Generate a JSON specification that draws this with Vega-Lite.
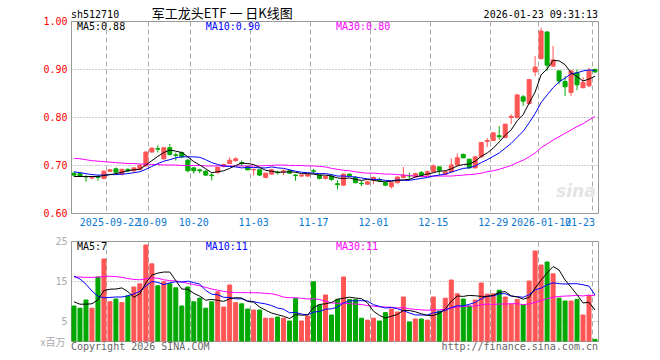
{
"$schema": "https://vega.github.io/schema/vega-lite/v6.json",
"background": "#ffffff",
"padding": {"left": 39, "top": 7, "right": 2, "bottom": 2},
"spacing": 28,
"bounds": "flush",
"config": {
  "font": "DejaVu Sans Mono",
  "view": {"stroke": "#999999", "strokeWidth": 1},
  "axis": {"labelFont": "DejaVu Sans Mono", "labelFontSize": 10, "ticks": false, "domain": false, "labelPadding": 4}
},
"datasets": {"k": [
{"d":"2025-09-12","o":0.683,"h":0.685,"l":0.676,"c":0.679,"v":8.75,"m5":0.676,"m10":0.686,"m30":0.714,"vm5":9.8,"vm10":16.2,"vm30":16.0},
{"d":"2025-09-15","o":0.682,"h":0.683,"l":0.676,"c":0.677,"v":8.2,"m5":0.676,"m10":0.684,"m30":0.713,"vm5":9.2,"vm10":15.5,"vm30":16.0},
{"d":"2025-09-16","o":0.676,"h":0.679,"l":0.665,"c":0.675,"v":10.25,"m5":0.676,"m10":0.682,"m30":0.711,"vm5":9.2,"vm10":14.2,"vm30":15.9},
{"d":"2025-09-17","o":0.673,"h":0.676,"l":0.670,"c":0.675,"v":8.2,"m5":0.676,"m10":0.680,"m30":0.709,"vm5":9.3,"vm10":12.5,"vm30":15.9},
{"d":"2025-09-18","o":0.675,"h":0.679,"l":0.667,"c":0.674,"v":16,"m5":0.676,"m10":0.679,"m30":0.708,"vm5":10.28,"vm10":11.2,"vm30":16.0},
{"d":"2025-09-19","o":0.672,"h":0.689,"l":0.670,"c":0.687,"v":20.5,"m5":0.678,"m10":0.679,"m30":0.707,"vm5":12.63,"vm10":10.8,"vm30":16.1},
{"d":"2025-09-22","o":0.687,"h":0.692,"l":0.685,"c":0.690,"v":9.8,"m5":0.680,"m10":0.680,"m30":0.706,"vm5":12.95,"vm10":10.9,"vm30":16.2},
{"d":"2025-09-23","o":0.692,"h":0.695,"l":0.683,"c":0.685,"v":10.5,"m5":0.682,"m10":0.680,"m30":0.705,"vm5":13.0,"vm10":11.0,"vm30":16.1},
{"d":"2025-09-24","o":0.681,"h":0.692,"l":0.678,"c":0.691,"v":9.6,"m5":0.685,"m10":0.681,"m30":0.704,"vm5":13.28,"vm10":11.0,"vm30":15.9},
{"d":"2025-09-25","o":0.691,"h":0.693,"l":0.685,"c":0.688,"v":11.25,"m5":0.688,"m10":0.682,"m30":0.703,"vm5":12.33,"vm10":11.31,"vm30":15.6},
{"d":"2025-09-26","o":0.688,"h":0.696,"l":0.686,"c":0.694,"v":13.5,"m5":0.690,"m10":0.684,"m30":0.703,"vm5":10.93,"vm10":11.78,"vm30":15.4},
{"d":"2025-09-29","o":0.691,"h":0.702,"l":0.689,"c":0.699,"v":14.3,"m5":0.691,"m10":0.686,"m30":0.702,"vm5":11.83,"vm10":12.39,"vm30":15.3},
{"d":"2025-09-30","o":0.698,"h":0.728,"l":0.697,"c":0.727,"v":24,"m5":0.700,"m10":0.691,"m30":0.702,"vm5":14.53,"vm10":13.77,"vm30":15.6},
{"d":"2025-10-09","o":0.727,"h":0.737,"l":0.726,"c":0.735,"v":19.3,"m5":0.709,"m10":0.697,"m30":0.701,"vm5":16.47,"vm10":14.88,"vm30":15.8},
{"d":"2025-10-10","o":0.734,"h":0.741,"l":0.726,"c":0.733,"v":13.8,"m5":0.718,"m10":0.703,"m30":0.701,"vm5":16.98,"vm10":14.66,"vm30":15.7},
{"d":"2025-10-13","o":0.713,"h":0.737,"l":0.711,"c":0.736,"v":14.8,"m5":0.726,"m10":0.708,"m30":0.700,"vm5":17.24,"vm10":14.09,"vm30":15.3},
{"d":"2025-10-14","o":0.736,"h":0.744,"l":0.720,"c":0.722,"v":14.3,"m5":0.731,"m10":0.711,"m30":0.700,"vm5":17.24,"vm10":14.54,"vm30":15.1},
{"d":"2025-10-15","o":0.721,"h":0.726,"l":0.709,"c":0.720,"v":13.3,"m5":0.729,"m10":0.715,"m30":0.700,"vm5":15.1,"vm10":14.82,"vm30":15.0},
{"d":"2025-10-16","o":0.726,"h":0.728,"l":0.714,"c":0.717,"v":8.75,"m5":0.726,"m10":0.717,"m30":0.699,"vm5":12.99,"vm10":14.73,"vm30":14.8},
{"d":"2025-10-17","o":0.710,"h":0.712,"l":0.685,"c":0.688,"v":13.5,"m5":0.717,"m10":0.717,"m30":0.699,"vm5":12.93,"vm10":14.96,"vm30":14.4},
{"d":"2025-10-20","o":0.694,"h":0.696,"l":0.682,"c":0.688,"v":9.8,"m5":0.707,"m10":0.717,"m30":0.699,"vm5":11.93,"vm10":14.59,"vm30":14.1},
{"d":"2025-10-21","o":0.690,"h":0.692,"l":0.683,"c":0.688,"v":10.7,"m5":0.700,"m10":0.716,"m30":0.699,"vm5":11.21,"vm10":14.23,"vm30":13.8},
{"d":"2025-10-22","o":0.687,"h":0.689,"l":0.677,"c":0.679,"v":8.2,"m5":0.692,"m10":0.711,"m30":0.698,"vm5":10.19,"vm10":12.65,"vm30":13.4},
{"d":"2025-10-23","o":0.679,"h":0.683,"l":0.668,"c":0.678,"v":9.8,"m5":0.684,"m10":0.705,"m30":0.698,"vm5":10.4,"vm10":11.7,"vm30":13.0},
{"d":"2025-10-24","o":0.684,"h":0.697,"l":0.682,"c":0.695,"v":12.3,"m5":0.686,"m10":0.701,"m30":0.698,"vm5":10.16,"vm10":11.55,"vm30":12.7},
{"d":"2025-10-27","o":0.697,"h":0.703,"l":0.695,"c":0.701,"v":8.5,"m5":0.688,"m10":0.698,"m30":0.698,"vm5":9.9,"vm10":10.92,"vm30":12.4},
{"d":"2025-10-28","o":0.703,"h":0.716,"l":0.702,"c":0.710,"v":14,"m5":0.693,"m10":0.697,"m30":0.698,"vm5":10.56,"vm10":10.89,"vm30":12.2},
{"d":"2025-10-29","o":0.709,"h":0.716,"l":0.707,"c":0.713,"v":9.6,"m5":0.699,"m10":0.696,"m30":0.698,"vm5":10.84,"vm10":10.52,"vm30":12.1},
{"d":"2025-10-30","o":0.705,"h":0.709,"l":0.697,"c":0.703,"v":9.3,"m5":0.704,"m10":0.694,"m30":0.698,"vm5":10.74,"vm10":10.57,"vm30":12.1},
{"d":"2025-10-31","o":0.697,"h":0.699,"l":0.689,"c":0.690,"v":8,"m5":0.703,"m10":0.695,"m30":0.698,"vm5":9.88,"vm10":10.02,"vm30":12.09},
{"d":"2025-11-03","o":0.690,"h":0.692,"l":0.678,"c":0.691,"v":7.75,"m5":0.701,"m10":0.695,"m30":0.698,"vm5":9.73,"vm10":9.82,"vm30":12.06},
{"d":"2025-11-04","o":0.690,"h":0.691,"l":0.677,"c":0.679,"v":7.75,"m5":0.695,"m10":0.694,"m30":0.698,"vm5":8.48,"vm10":9.52,"vm30":12.05},
{"d":"2025-11-05","o":0.674,"h":0.684,"l":0.672,"c":0.683,"v":5.7,"m5":0.689,"m10":0.694,"m30":0.699,"vm5":7.7,"vm10":9.27,"vm30":11.89},
{"d":"2025-11-06","o":0.681,"h":0.692,"l":0.680,"c":0.690,"v":5.7,"m5":0.687,"m10":0.696,"m30":0.699,"vm5":6.98,"vm10":8.86,"vm30":11.81},
{"d":"2025-11-07","o":0.685,"h":0.688,"l":0.680,"c":0.684,"v":6,"m5":0.685,"m10":0.694,"m30":0.700,"vm5":6.58,"vm10":8.23,"vm30":11.48},
{"d":"2025-11-10","o":0.686,"h":0.691,"l":0.679,"c":0.688,"v":5.7,"m5":0.685,"m10":0.693,"m30":0.700,"vm5":6.17,"vm10":7.95,"vm30":10.98},
{"d":"2025-11-11","o":0.688,"h":0.691,"l":0.682,"c":0.683,"v":5,"m5":0.686,"m10":0.690,"m30":0.699,"vm5":5.62,"vm10":7.05,"vm30":10.82},
{"d":"2025-11-12","o":0.679,"h":0.681,"l":0.667,"c":0.678,"v":10.6,"m5":0.685,"m10":0.687,"m30":0.699,"vm5":6.6,"vm10":7.15,"vm30":10.83},
{"d":"2025-11-13","o":0.677,"h":0.680,"l":0.675,"c":0.679,"v":5,"m5":0.682,"m10":0.685,"m30":0.699,"vm5":6.46,"vm10":6.72,"vm30":10.67},
{"d":"2025-11-14","o":0.677,"h":0.681,"l":0.675,"c":0.680,"v":6.25,"m5":0.682,"m10":0.684,"m30":0.698,"vm5":6.51,"vm10":6.55,"vm30":10.51},
{"d":"2025-11-17","o":0.688,"h":0.692,"l":0.682,"c":0.687,"v":14.8,"m5":0.681,"m10":0.683,"m30":0.698,"vm5":8.33,"vm10":7.25,"vm30":10.55},
{"d":"2025-11-18","o":0.679,"h":0.680,"l":0.670,"c":0.672,"v":9,"m5":0.679,"m10":0.682,"m30":0.697,"vm5":9.13,"vm10":7.38,"vm30":10.37},
{"d":"2025-11-19","o":0.672,"h":0.677,"l":0.670,"c":0.676,"v":11.5,"m5":0.679,"m10":0.682,"m30":0.696,"vm5":9.31,"vm10":7.96,"vm30":9.96},
{"d":"2025-11-20","o":0.677,"h":0.680,"l":0.667,"c":0.670,"v":6.5,"m5":0.677,"m10":0.680,"m30":0.693,"vm5":9.61,"vm10":8.04,"vm30":9.53},
{"d":"2025-11-21","o":0.661,"h":0.668,"l":0.649,"c":0.659,"v":10.4,"m5":0.673,"m10":0.677,"m30":0.691,"vm5":10.44,"vm10":8.48,"vm30":9.42},
{"d":"2025-11-24","o":0.658,"h":0.682,"l":0.657,"c":0.681,"v":16,"m5":0.672,"m10":0.677,"m30":0.689,"vm5":10.68,"vm10":9.51,"vm30":9.46},
{"d":"2025-11-25","o":0.681,"h":0.682,"l":0.677,"c":0.678,"v":10.4,"m5":0.673,"m10":0.676,"m30":0.688,"vm5":10.96,"vm10":10.05,"vm30":9.33},
{"d":"2025-11-26","o":0.674,"h":0.677,"l":0.662,"c":0.663,"v":10.4,"m5":0.670,"m10":0.675,"m30":0.686,"vm5":10.74,"vm10":10.03,"vm30":9.23},
{"d":"2025-11-27","o":0.662,"h":0.668,"l":0.656,"c":0.661,"v":5.7,"m5":0.668,"m10":0.673,"m30":0.684,"vm5":10.58,"vm10":10.1,"vm30":9.13},
{"d":"2025-11-28","o":0.660,"h":0.667,"l":0.659,"c":0.665,"v":5.2,"m5":0.670,"m10":0.671,"m30":0.683,"vm5":9.54,"vm10":9.99,"vm30":8.85},
{"d":"2025-12-01","o":0.670,"h":0.676,"l":0.660,"c":0.674,"v":5.7,"m5":0.668,"m10":0.670,"m30":0.683,"vm5":7.48,"vm10":9.08,"vm30":8.72},
{"d":"2025-12-02","o":0.669,"h":0.674,"l":0.665,"c":0.668,"v":5,"m5":0.666,"m10":0.670,"m30":0.682,"vm5":6.4,"vm10":8.68,"vm30":8.53},
{"d":"2025-12-03","o":0.663,"h":0.665,"l":0.656,"c":0.658,"v":7.1,"m5":0.665,"m10":0.668,"m30":0.681,"vm5":5.74,"vm10":8.24,"vm30":8.49},
{"d":"2025-12-04","o":0.655,"h":0.664,"l":0.651,"c":0.663,"v":8,"m5":0.666,"m10":0.667,"m30":0.681,"vm5":6.2,"vm10":8.39,"vm30":8.43},
{"d":"2025-12-05","o":0.663,"h":0.676,"l":0.662,"c":0.675,"v":7.25,"m5":0.668,"m10":0.669,"m30":0.680,"vm5":6.61,"vm10":8.08,"vm30":8.26},
{"d":"2025-12-08","o":0.674,"h":0.696,"l":0.672,"c":0.679,"v":11,"m5":0.669,"m10":0.668,"m30":0.679,"vm5":7.67,"vm10":7.58,"vm30":8.34},
{"d":"2025-12-09","o":0.678,"h":0.684,"l":0.670,"c":0.677,"v":4.75,"m5":0.670,"m10":0.668,"m30":0.678,"vm5":7.62,"vm10":7.01,"vm30":8.04},
{"d":"2025-12-10","o":0.675,"h":0.684,"l":0.674,"c":0.682,"v":5.5,"m5":0.675,"m10":0.670,"m30":0.677,"vm5":7.3,"vm10":6.52,"vm30":7.9},
{"d":"2025-12-11","o":0.684,"h":0.6875,"l":0.674,"c":0.679,"v":5.5,"m5":0.678,"m10":0.672,"m30":0.676,"vm5":6.8,"vm10":6.5,"vm30":7.77},
{"d":"2025-12-12","o":0.679,"h":0.689,"l":0.678,"c":0.686,"v":5.2,"m5":0.681,"m10":0.674,"m30":0.676,"vm5":6.39,"vm10":6.5,"vm30":7.68},
{"d":"2025-12-15","o":0.686,"h":0.701,"l":0.685,"c":0.698,"v":11,"m5":0.684,"m10":0.677,"m30":0.677,"vm5":6.39,"vm10":7.03,"vm30":7.79},
{"d":"2025-12-16","o":0.696,"h":0.697,"l":0.679,"c":0.689,"v":7.5,"m5":0.687,"m10":0.679,"m30":0.677,"vm5":6.94,"vm10":7.28,"vm30":7.78},
{"d":"2025-12-17","o":0.6805,"h":0.688,"l":0.679,"c":0.686,"v":10.7,"m5":0.688,"m10":0.681,"m30":0.677,"vm5":7.98,"vm10":7.64,"vm30":7.95},
{"d":"2025-12-18","o":0.686,"h":0.714,"l":0.684,"c":0.700,"v":15.25,"m5":0.692,"m10":0.685,"m30":0.677,"vm5":9.93,"vm10":8.37,"vm30":8.26},
{"d":"2025-12-19","o":0.700,"h":0.724,"l":0.699,"c":0.715,"v":11.8,"m5":0.698,"m10":0.689,"m30":0.678,"vm5":11.25,"vm10":8.82,"vm30":8.46},
{"d":"2025-12-22","o":0.722,"h":0.724,"l":0.714,"c":0.715,"v":10.5,"m5":0.701,"m10":0.693,"m30":0.679,"vm5":11.15,"vm10":8.77,"vm30":8.62},
{"d":"2025-12-23","o":0.712,"h":0.713,"l":0.693,"c":0.694,"v":8.75,"m5":0.702,"m10":0.694,"m30":0.680,"vm5":11.4,"vm10":9.17,"vm30":8.74},
{"d":"2025-12-24","o":0.694,"h":0.719,"l":0.693,"c":0.717,"v":10.25,"m5":0.708,"m10":0.698,"m30":0.681,"vm5":11.31,"vm10":9.65,"vm30":8.73},
{"d":"2025-12-25","o":0.717,"h":0.748,"l":0.715,"c":0.747,"v":14.5,"m5":0.718,"m10":0.705,"m30":0.683,"vm5":11.16,"vm10":10.55,"vm30":9.05},
{"d":"2025-12-26","o":0.749,"h":0.756,"l":0.7375,"c":0.751,"v":11.7,"m5":0.725,"m10":0.711,"m30":0.686,"vm5":11.14,"vm10":11.2,"vm30":9.23},
{"d":"2025-12-29","o":0.751,"h":0.768,"l":0.750,"c":0.767,"v":11.8,"m5":0.735,"m10":0.718,"m30":0.688,"vm5":11.4,"vm10":11.28,"vm30":9.13},
{"d":"2025-12-30","o":0.761,"h":0.781,"l":0.753,"c":0.759,"v":12.7,"m5":0.748,"m10":0.725,"m30":0.691,"vm5":12.19,"vm10":11.8,"vm30":9.25},
{"d":"2025-12-31","o":0.757,"h":0.786,"l":0.756,"c":0.785,"v":11,"m5":0.762,"m10":0.735,"m30":0.695,"vm5":12.34,"vm10":11.83,"vm30":9.24},
{"d":"2026-01-05","o":0.799,"h":0.806,"l":0.785,"c":0.801,"v":9.2,"m5":0.773,"m10":0.745,"m30":0.699,"vm5":11.28,"vm10":11.22,"vm30":9.33},
{"d":"2026-01-06","o":0.799,"h":0.847,"l":0.797,"c":0.846,"v":10.4,"m5":0.792,"m10":0.758,"m30":0.705,"vm5":11.02,"vm10":11.08,"vm30":9.33},
{"d":"2026-01-07","o":0.842,"h":0.846,"l":0.823,"c":0.833,"v":9,"m5":0.805,"m10":0.770,"m30":0.710,"vm5":10.46,"vm10":10.93,"vm30":9.09},
{"d":"2026-01-08","o":0.828,"h":0.879,"l":0.826,"c":0.878,"v":15,"m5":0.829,"m10":0.788,"m30":0.717,"vm5":10.92,"vm10":11.56,"vm30":9.25},
{"d":"2026-01-09","o":0.894,"h":0.927,"l":0.885,"c":0.904,"v":22.5,"m5":0.852,"m10":0.807,"m30":0.725,"vm5":13.22,"vm10":12.78,"vm30":9.65},
{"d":"2026-01-12","o":0.9215,"h":0.986,"l":0.920,"c":0.979,"v":19,"m5":0.888,"m10":0.830,"m30":0.736,"vm5":15.18,"vm10":13.23,"vm30":10.09},
{"d":"2026-01-13","o":0.977,"h":0.979,"l":0.896,"c":0.908,"v":19.75,"m5":0.900,"m10":0.846,"m30":0.744,"vm5":17.05,"vm10":14.04,"vm30":10.58},
{"d":"2026-01-14","o":0.906,"h":0.948,"l":0.905,"c":0.919,"v":16.8,"m5":0.918,"m10":0.861,"m30":0.752,"vm5":18.61,"vm10":14.54,"vm30":10.95},
{"d":"2026-01-15","o":0.896,"h":0.897,"l":0.868,"c":0.875,"v":10.7,"m5":0.917,"m10":0.873,"m30":0.759,"vm5":17.75,"vm10":14.34,"vm30":11.14},
{"d":"2026-01-16","o":0.874,"h":0.885,"l":0.844,"c":0.863,"v":10,"m5":0.909,"m10":0.881,"m30":0.766,"vm5":15.25,"vm10":14.24,"vm30":11.23},
{"d":"2026-01-19","o":0.851,"h":0.897,"l":0.844,"c":0.896,"v":10,"m5":0.892,"m10":0.890,"m30":0.773,"vm5":13.45,"vm10":14.32,"vm30":11.3},
{"d":"2026-01-20","o":0.892,"h":0.899,"l":0.856,"c":0.867,"v":10.4,"m5":0.884,"m10":0.892,"m30":0.780,"vm5":11.58,"vm10":14.32,"vm30":11.41},
{"d":"2026-01-21","o":0.861,"h":0.883,"l":0.860,"c":0.872,"v":6.5,"m5":0.875,"m10":0.896,"m30":0.786,"vm5":9.52,"vm10":14.07,"vm30":11.26},
{"d":"2026-01-22","o":0.865,"h":0.903,"l":0.8625,"c":0.896,"v":11.4,"m5":0.879,"m10":0.898,"m30":0.794,"vm5":9.66,"vm10":13.71,"vm30":11.48},
{"d":"2026-01-23","o":0.899,"h":0.901,"l":0.892,"c":0.894,"v":0.4,"m5":0.885,"m10":0.897,"m30":0.801,"vm5":7.74,"vm10":11.5,"vm30":11.31}
]},
"vconcat": [
{
  "width": 527,
  "height": 192,
  "data": {"name": "k"},
  "layer": [
    {
      "mark": {"type": "rule", "strokeWidth": 1},
      "encoding": {
        "x": {"field": "d", "type": "ordinal", "title": null,
          "scale": {"paddingInner": 0, "paddingOuter": 0},
          "axis": {"values": ["2025-09-22","2025-10-09","2025-10-20","2025-11-03","2025-11-17","2025-12-01","2025-12-15","2025-12-29","2026-01-12","2026-01-23"],
            "bandPosition": 0, "labelAngle": 0, "labelColor": "#0a78d2", "labelPadding": 4, "labelFlush": 10, "labelOverlap": false,
            "labelExpr": "datum.value == '2025-09-22' || datum.value == '2026-01-12' ? datum.value : slice(datum.value, 5)",
            "grid": true, "gridDash": [5, 3], "gridColor": "#aaaaaa", "title": null}},
        "y": {"field": "l", "type": "quantitative", "title": null,
          "scale": {"domain": [0.6, 1.0], "nice": false, "zero": false},
          "axis": {"values": [0.6, 0.7, 0.8, 0.9, 1.0], "format": ".2f", "labelColor": "#ff0000", "labelPadding": 4,
            "grid": true, "gridDash": [1, 2], "gridColor": "#999999", "title": null}},
        "y2": {"field": "h"},
        "color": {"condition": {"test": "datum.c >= datum.o", "value": "#ff5555"}, "value": "#00a800"}
      }
    },
    {
      "mark": {"type": "bar", "width": 4, "strokeWidth": 1},
      "encoding": {
        "x": {"field": "d", "type": "ordinal", "title": null},
        "y": {"field": "o", "type": "quantitative", "title": null},
        "y2": {"field": "c"},
        "fill": {"condition": {"test": "datum.c >= datum.o", "value": "#ff5555"}, "value": "#00a800"},
        "stroke": {"condition": {"test": "datum.c >= datum.o", "value": "#ff5555"}, "value": "#00a800"}
      }
    },
    {
      "mark": {"type": "line", "strokeWidth": 1, "color": "#ff00ff"},
      "encoding": {"x": {"field": "d", "type": "ordinal", "title": null}, "y": {"field": "m30", "type": "quantitative", "title": null}}
    },
    {
      "mark": {"type": "line", "strokeWidth": 1, "color": "#0000ff"},
      "encoding": {"x": {"field": "d", "type": "ordinal", "title": null}, "y": {"field": "m10", "type": "quantitative", "title": null}}
    },
    {
      "mark": {"type": "line", "strokeWidth": 1, "color": "#000000"},
      "encoding": {"x": {"field": "d", "type": "ordinal", "title": null}, "y": {"field": "m5", "type": "quantitative", "title": null}}
    },
    {
      "data": {"values": [{"t": "sina"}]},
      "mark": {"type": "text", "align": "left", "baseline": "alphabetic", "fontSize": 17, "fontWeight": "bold", "fontStyle": "italic", "font": "DejaVu Sans", "color": "#e4e4e4"},
      "encoding": {"x": {"datum": "2026-01-15", "type": "ordinal", "bandPosition": 0}, "y": {"datum": 0.634, "type": "quantitative"}, "text": {"field": "t"}}
    },
    {
      "data": {"values": [{"t": "sh512710"}]},
      "mark": {"type": "text", "align": "left", "baseline": "alphabetic", "fontSize": 10, "color": "#000000"},
      "encoding": {"x": {"datum": "2025-09-12", "type": "ordinal", "bandPosition": 0}, "y": {"datum": 1.00625, "type": "quantitative"}, "text": {"field": "t"}}
    },
    {
      "data": {"values": [{"t": "军工龙头ETF 一 日K线图"}]},
      "mark": {"type": "text", "align": "left", "baseline": "alphabetic", "fontSize": 13, "font": "Noto Sans CJK SC", "color": "#000000"},
      "encoding": {"x": {"datum": "2025-10-09", "type": "ordinal", "bandPosition": 0.5}, "y": {"datum": 1.00625, "type": "quantitative"}, "text": {"field": "t"}}
    },
    {
      "data": {"values": [{"t": "2026-01-23 09:31:13"}]},
      "mark": {"type": "text", "align": "right", "baseline": "alphabetic", "fontSize": 10, "color": "#000000"},
      "encoding": {"x": {"datum": "2026-01-23", "type": "ordinal", "bandPosition": 1}, "y": {"datum": 1.00625, "type": "quantitative"}, "text": {"field": "t"}}
    },
    {
      "data": {"values": [{"t": "MA5:0.88"}]},
      "mark": {"type": "text", "align": "left", "baseline": "middle", "fontSize": 10, "color": "#000000"},
      "encoding": {"x": {"datum": "2025-09-15", "type": "ordinal", "bandPosition": 0}, "y": {"datum": 0.9875, "type": "quantitative"}, "text": {"field": "t"}}
    },
    {
      "data": {"values": [{"t": "MA10:0.90"}]},
      "mark": {"type": "text", "align": "left", "baseline": "middle", "fontSize": 10, "color": "#0000ff"},
      "encoding": {"x": {"datum": "2025-10-22", "type": "ordinal", "bandPosition": 0.5}, "y": {"datum": 0.9875, "type": "quantitative"}, "text": {"field": "t"}}
    },
    {
      "data": {"values": [{"t": "MA30:0.80"}]},
      "mark": {"type": "text", "align": "left", "baseline": "middle", "fontSize": 10, "color": "#ff00ff"},
      "encoding": {"x": {"datum": "2025-11-21", "type": "ordinal", "bandPosition": 0.25}, "y": {"datum": 0.9875, "type": "quantitative"}, "text": {"field": "t"}}
    }
  ]
},
{
  "width": 527,
  "height": 100,
  "data": {"name": "k"},
  "layer": [
    {
      "mark": {"type": "bar", "width": 4, "strokeWidth": 1},
      "encoding": {
        "x": {"field": "d", "type": "ordinal", "title": null,
          "scale": {"paddingInner": 0, "paddingOuter": 0},
          "axis": {"values": ["2025-09-22","2025-10-09","2025-10-20","2025-11-03","2025-11-17","2025-12-01","2025-12-15","2025-12-29","2026-01-12","2026-01-23"],
            "bandPosition": 0, "labels": false, "grid": true, "gridDash": [5, 3], "gridColor": "#aaaaaa", "title": null}},
        "y": {"field": "v", "type": "quantitative",
          "scale": {"domain": [0, 25], "nice": false},
          "axis": {"values": [5, 10, 15, 20, 25], "labelColor": "#aaaaaa", "labelPadding": 4,
            "grid": true, "gridDash": [1, 2], "gridColor": "#999999",
            "title": "x百万", "titleAngle": 0, "titleAlign": "left", "titleBaseline": "middle", "titleX": -31, "titleY": 101,
            "titleFont": "Noto Sans CJK SC", "titleFontSize": 10, "titleFontWeight": "normal", "titleColor": "#aaaaaa"}},
        "fill": {"condition": {"test": "datum.c >= datum.o", "value": "#ff5555"}, "value": "#00a800"},
        "stroke": {"condition": {"test": "datum.c >= datum.o", "value": "#ff5555"}, "value": "#00a800"}
      }
    },
    {
      "mark": {"type": "line", "strokeWidth": 1, "color": "#ff00ff"},
      "encoding": {"x": {"field": "d", "type": "ordinal", "title": null}, "y": {"field": "vm30", "type": "quantitative", "title": "x百万"}}
    },
    {
      "mark": {"type": "line", "strokeWidth": 1, "color": "#0000ff"},
      "encoding": {"x": {"field": "d", "type": "ordinal", "title": null}, "y": {"field": "vm10", "type": "quantitative", "title": "x百万"}}
    },
    {
      "mark": {"type": "line", "strokeWidth": 1, "color": "#000000"},
      "encoding": {"x": {"field": "d", "type": "ordinal", "title": null}, "y": {"field": "vm5", "type": "quantitative", "title": "x百万"}}
    },
    {
      "data": {"values": [{"t": "MA5:7"}]},
      "mark": {"type": "text", "align": "left", "baseline": "middle", "fontSize": 10, "color": "#000000"},
      "encoding": {"x": {"datum": "2025-09-15", "type": "ordinal", "bandPosition": 0}, "y": {"datum": 23.5, "type": "quantitative"}, "text": {"field": "t"}}
    },
    {
      "data": {"values": [{"t": "MA10:11"}]},
      "mark": {"type": "text", "align": "left", "baseline": "middle", "fontSize": 10, "color": "#0000ff"},
      "encoding": {"x": {"datum": "2025-10-22", "type": "ordinal", "bandPosition": 0.5}, "y": {"datum": 23.5, "type": "quantitative"}, "text": {"field": "t"}}
    },
    {
      "data": {"values": [{"t": "MA30:11"}]},
      "mark": {"type": "text", "align": "left", "baseline": "middle", "fontSize": 10, "color": "#ff00ff"},
      "encoding": {"x": {"datum": "2025-11-21", "type": "ordinal", "bandPosition": 0.25}, "y": {"datum": 23.5, "type": "quantitative"}, "text": {"field": "t"}}
    },
    {
      "data": {"values": [{"t": "Copyright 2026 SINA.COM"}]},
      "mark": {"type": "text", "align": "left", "baseline": "middle", "fontSize": 10, "color": "#666666"},
      "encoding": {"x": {"datum": "2025-09-12", "type": "ordinal", "bandPosition": 0}, "y": {"datum": -1.5, "type": "quantitative"}, "text": {"field": "t"}}
    },
    {
      "data": {"values": [{"t": "http://finance.sina.com.cn"}]},
      "mark": {"type": "text", "align": "right", "baseline": "middle", "fontSize": 10, "color": "#666666"},
      "encoding": {"x": {"datum": "2026-01-23", "type": "ordinal", "bandPosition": 1}, "y": {"datum": -1.5, "type": "quantitative"}, "text": {"field": "t"}}
    }
  ]
}
]
}
